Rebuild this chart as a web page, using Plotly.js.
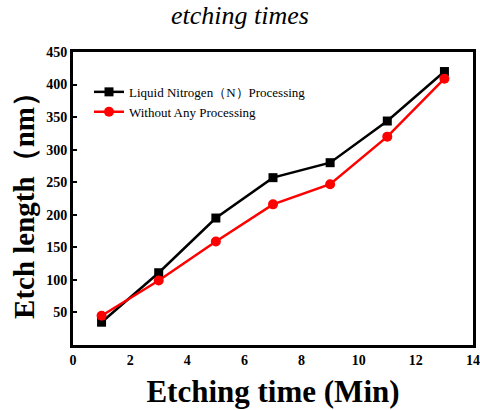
<!DOCTYPE html>
<html>
<head>
<meta charset="utf-8">
<script src="https://cdn.plot.ly/plotly-3.0.1.min.js"></script>
<style>html,body{margin:0;padding:0;background:#fff;}#chart{width:480px;height:410px;}</style>
</head>
<body>
<div id="chart"></div>
<script>
const times = [1, 3, 5, 7, 9, 11, 13];
const nitrogen = [35, 111, 195, 257, 280, 344, 420];
const noProcessing = [45, 99, 159, 216, 247, 320, 409];
const seriesNames = ["Liquid Nitrogen（N）Processing", "Without Any Processing"];
const xTicks = [0, 2, 4, 6, 8, 10, 12, 14];
const yTicks = [50, 100, 150, 200, 250, 300, 350, 400, 450];

const serif = "Liberation Serif";
const traces = [
  {x: times, y: nitrogen, name: seriesNames[0], mode: "lines+markers",
   line: {color: "#000000", width: 2.5},
   marker: {symbol: "square", size: 9, color: "#000000"}},
  {x: times, y: noProcessing, name: seriesNames[1], mode: "lines+markers",
   line: {color: "#ff0000", width: 2.5},
   marker: {symbol: "circle", size: 10, color: "#ff0000"}}
];
const layout = {
  width: 480, height: 410,
  margin: {l: 73, r: 7, t: 52, b: 65},
  paper_bgcolor: "#fff", plot_bgcolor: "#fff",
  font: {family: serif, color: "#000"},
  title: {text: "<i>etching times</i>", x: 0.5, xanchor: "center", y: 0.985, yanchor: "top",
          font: {family: serif, size: 26, color: "#000"}},
  showlegend: true,
  legend: {x: 0.04, y: 0.915, xanchor: "left", yanchor: "top", bgcolor: "rgba(0,0,0,0)",
           font: {family: serif, size: 13, color: "#000"}, tracegroupgap: 0, itemwidth: 30},
  xaxis: {range: [0, 14], tickvals: xTicks, ticktext: xTicks.map(String),
          showgrid: false, zeroline: false, showline: true, mirror: true,
          linecolor: "#000", linewidth: 3, ticks: "",
          tickfont: {family: serif, size: 14, color: "#000", weight: "bold"},
          title: {text: "<b>Etching time (Min)</b>", standoff: 14,
                  font: {family: serif, size: 31, color: "#000"}}},
  yaxis: {range: [0, 450], tickvals: yTicks, ticktext: yTicks.map(String),
          showgrid: false, zeroline: false, showline: true, mirror: true,
          linecolor: "#000", linewidth: 3, ticks: "inside", ticklen: 4, tickwidth: 2, tickcolor: "#000",
          tickfont: {family: serif, size: 14, color: "#000", weight: "bold"},
          title: {text: "<b>Etch length（nm）</b>", standoff: 4,
                  font: {family: serif, size: 29, color: "#000"}}}
};
Plotly.newPlot("chart", traces, layout, {displayModeBar: false, staticPlot: true});
</script>
</body>
</html>
